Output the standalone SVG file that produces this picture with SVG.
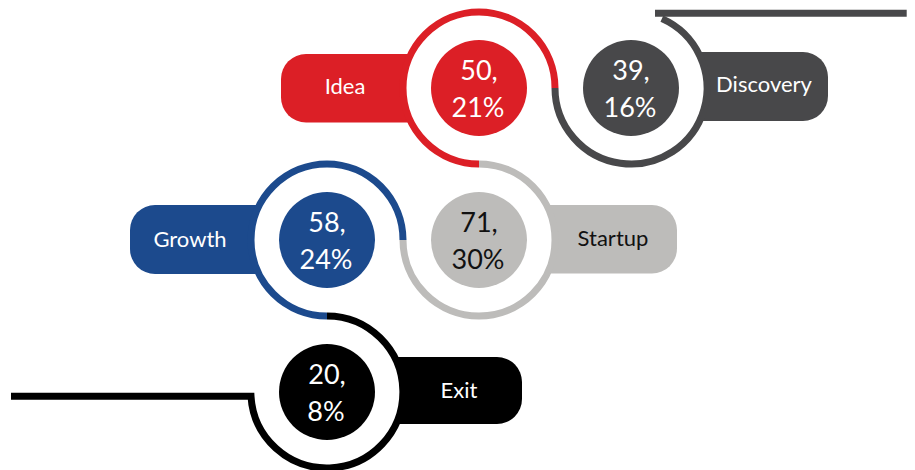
<svg xmlns="http://www.w3.org/2000/svg" width="915" height="470" viewBox="0 0 915 470">
  <style>
    .lbl { font-family: Lato, "Open Sans", "Liberation Sans", sans-serif; font-size: 22px; text-anchor: middle; fill: #ffffff; }
    .num { font-family: Lato, "Open Sans", "Liberation Sans", sans-serif; font-size: 27px; text-anchor: middle; fill: #ffffff; }
    .dark { fill: #111111; }
    .hole { fill: #ffffff; }
    .ring { fill: none; stroke-width: 7; stroke-linejoin: miter; }
    .red { fill: #dc1f26; }
    .char { fill: #48484a; }
    .grey { fill: #bdbcba; }
    .blue { fill: #1c4a8d; }
    .black { fill: #000000; }
  </style>

  <!-- Idea -->
  <g id="idea">
    <path class="red" d="M479 54 H306 A25 25 0 0 0 281 79 V97.5 A25 25 0 0 0 306 122.5 H479 Z"/>
    <circle class="hole" cx="479" cy="88" r="76"/>
    <circle class="red" cx="479" cy="88" r="48"/>
    <text class="lbl" x="345" y="94">Idea</text>
    <text class="num" x="479" y="80">50,</text>
    <text class="num" x="478" y="116.7">21%</text>
  </g>

  <!-- Discovery -->
  <g id="discovery">
    <path class="char" d="M631 52 H803 A25 25 0 0 1 828 77 V96 A25 25 0 0 1 803 121 H631 Z"/>
    <circle class="hole" cx="631" cy="88" r="76"/>
    <circle class="char" cx="631" cy="88" r="48"/>
    <text class="lbl" x="764" y="92">Discovery</text>
    <text class="num" x="631" y="80">39,</text>
    <text class="num" x="630" y="116.7">16%</text>
  </g>

  <!-- Startup -->
  <g id="startup">
    <path class="grey" d="M479 205 H652 A25 25 0 0 1 677 230 V248.5 A25 25 0 0 1 652 273.5 H479 Z"/>
    <circle class="hole" cx="479" cy="240" r="76"/>
    <circle class="grey" cx="479" cy="240" r="48"/>
    <text class="lbl dark" x="613" y="245.5">Startup</text>
    <text class="num dark" x="479" y="232">71,</text>
    <text class="num dark" x="478" y="268.7">30%</text>
  </g>

  <!-- Growth -->
  <g id="growth">
    <path class="blue" d="M327 205 H155 A25 25 0 0 0 130 230 V249 A25 25 0 0 0 155 274 H327 Z"/>
    <circle class="hole" cx="327" cy="240" r="76"/>
    <circle class="blue" cx="327" cy="240" r="48"/>
    <text class="lbl" x="190" y="246.5">Growth</text>
    <text class="num" x="327" y="232">58,</text>
    <text class="num" x="326" y="268.7">24%</text>
  </g>

  <!-- Exit -->
  <g id="exit">
    <path class="black" d="M327 357 H497 A25 25 0 0 1 522 382 V399 A25 25 0 0 1 497 424 H327 Z"/>
    <circle class="hole" cx="327" cy="392" r="76"/>
    <circle class="black" cx="327" cy="392" r="48"/>
    <text class="lbl" x="459" y="397.5">Exit</text>
    <text class="num" x="327" y="384">20,</text>
    <text class="num" x="326" y="420.7">8%</text>
  </g>

  <!-- ring segments linking the stages -->
  <g id="connectors">
    <path class="ring" stroke="#dc1f26" d="M479 164 A76 76 0 1 1 555 88"/>
    <path class="ring" stroke="#48484a" d="M555 88 A76 76 0 1 0 661.9 18.6"/>
    <path class="ring" stroke="#48484a" d="M655 13.3 H906.7"/>
    <path class="ring" stroke="#bdbcba" d="M479 164 A76 76 0 1 1 403 240"/>
    <path class="ring" stroke="#1c4a8d" d="M403 240 A76 76 0 1 0 327 316"/>
    <path class="ring" stroke="#000000" d="M11 396.3 H251 A76 76 0 1 0 327 316"/>
  </g>
</svg>
